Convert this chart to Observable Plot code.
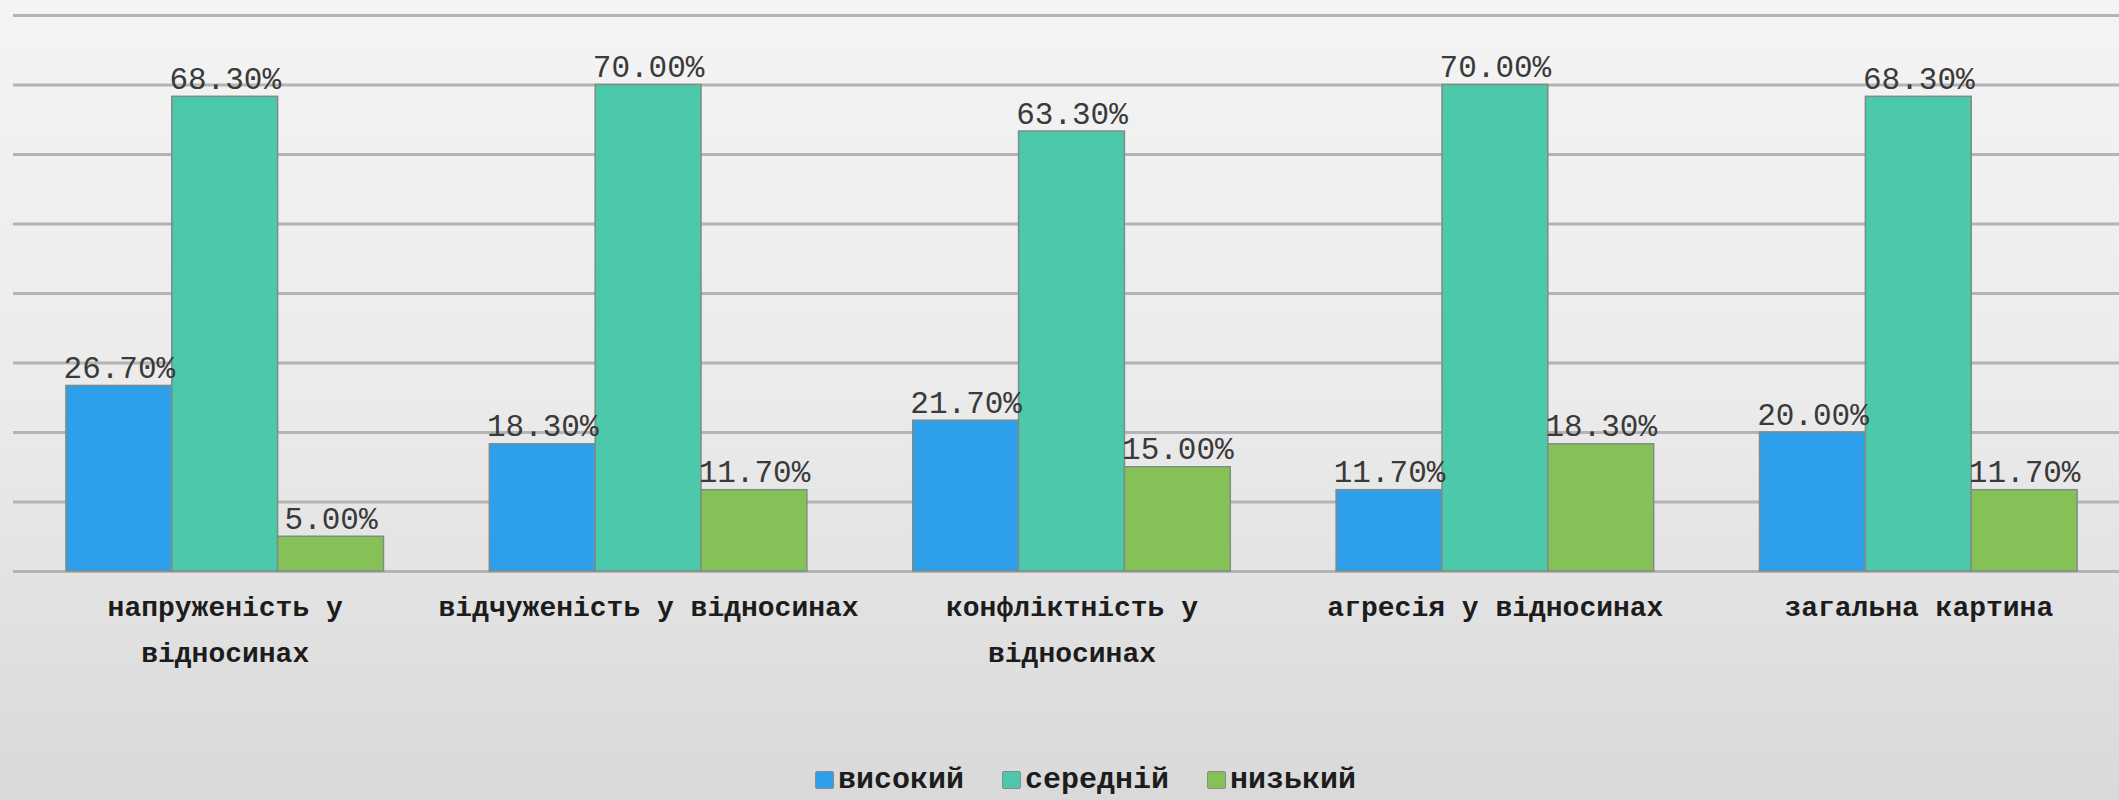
<!DOCTYPE html>
<html>
<head>
<meta charset="utf-8">
<script src="https://cdn.jsdelivr.net/npm/d3@7"></script>
<script src="https://cdn.jsdelivr.net/npm/@observablehq/plot@0.6"></script>
<style>
  html, body { margin: 0; padding: 0; overflow: hidden; }
  body {
    width: 2119px; height: 800px;
    background: linear-gradient(to bottom, #f4f4f4 0%, #ebebeb 50%, #d9d9d9 100%);
    font-family: "Liberation Mono", monospace;
  }
  #legend {
    height: 40px; padding-top: 20px; padding-left: 52px;
    display: flex; justify-content: center; align-items: center;
    font-family: "Liberation Mono", monospace; font-size: 30px; font-weight: bold; color: #1c1c1c;
  }
  .item { display: flex; align-items: center; margin: 0 19px; }
  .sw { width: 19px; height: 18px; border: 1px solid #8a8a8a; border-radius: 2px; margin-right: 4px; box-sizing: border-box; }
</style>
</head>
<body>
<div id="chart"></div>
<div id="legend"></div>
<script>
const categories = ["напруженість у відносинах", "відчуженість у відносинах", "конфліктність у відносинах", "агресія у відносинах", "загальна картина"];
const tickLabels = ["напруженість у\nвідносинах", "відчуженість у відносинах", "конфліктність у\nвідносинах", "агресія у відносинах", "загальна картина"];
const series = ["високий", "середній", "низький"];
const high = [26.7, 18.3, 21.7, 11.7, 20.0];
const mid = [68.3, 70.0, 63.3, 70.0, 68.3];
const low = [5.0, 11.7, 15.0, 18.3, 11.7];
const yTicks = [0, 10, 20, 30, 40, 50, 60, 70, 80];
const colors = ["#2e9fea", "#4bc9aa", "#86c157"];

const seriesValues = [high, mid, low];
const rows = categories.flatMap((c, i) => series.map((s, j) => ({category: c, series: s, key: c + "|" + s, value: seriesValues[j][i]})));
const xDomain = categories.flatMap((c, i) => [...series.map(s => c + "|" + s), ...(i < categories.length - 1 ? [c + "|gap"] : [])]);
const font = "Liberation Mono, monospace";

const chart = Plot.plot({
  width: 2119,
  height: 740,
  marginTop: 15,
  marginBottom: 169,
  marginLeft: 13,
  marginRight: -11,
  style: {background: "transparent", overflow: "visible", maxWidth: "none", fontFamily: font},
  x: {type: "band", domain: xDomain, paddingInner: 0, paddingOuter: 0.5, round: false, axis: null},
  y: {domain: [0, 80], axis: null},
  color: {domain: series, range: colors},
  marks: [
    Plot.ruleY(yTicks, {stroke: "#b4b4b4", strokeWidth: 3}),
    Plot.barY(rows, {x: "key", y: "value", fill: "series", stroke: "#808c84", strokeWidth: 1.5}),
    Plot.text(rows, {x: "key", y: "value", text: d => d.value.toFixed(2) + "%", lineAnchor: "bottom", dy: -8, fontSize: 31, fill: "#3a3a3a", fontFamily: font}),
    Plot.text(categories, {x: c => c + "|" + series[1], y: () => 0, text: (c, i) => tickLabels[i], lineAnchor: "top", dy: 12, fontSize: 28, lineHeight: 1.64, fontWeight: "bold", fill: "#1c1c1c", fontFamily: font})
  ]
});
document.getElementById("chart").appendChild(chart);

const legend = document.getElementById("legend");
series.forEach((s, i) => {
  const item = document.createElement("div");
  item.className = "item";
  const sw = document.createElement("div");
  sw.className = "sw";
  sw.style.background = colors[i];
  const t = document.createElement("span");
  t.textContent = s;
  item.appendChild(sw);
  item.appendChild(t);
  legend.appendChild(item);
});
</script>
</body>
</html>
